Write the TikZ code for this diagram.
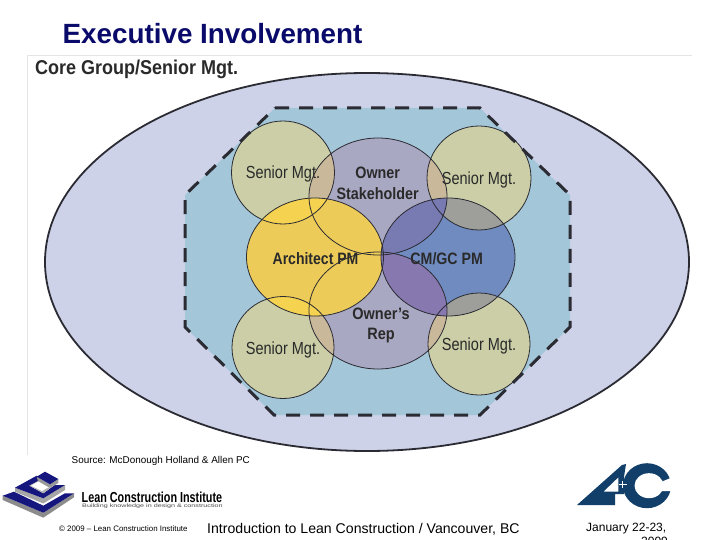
\documentclass[tikz,border=0pt]{standalone}
\usepackage{fontspec}
\usepackage{graphicx}
\setmainfont{Liberation Sans}
\usetikzlibrary{calc}
\definecolor{titleblue}{HTML}{0A0A6B}
\definecolor{outerfill}{HTML}{CDD2E8}
\definecolor{octfill}{HTML}{A3C6D8}
\definecolor{srfill}{HTML}{CBCEA6}
\definecolor{ownfill}{HTML}{A9A8C3}
\definecolor{archfill}{HTML}{EDCB58}
\definecolor{cmfill}{HTML}{6F8BBF}
\definecolor{ink}{HTML}{2A2A2A}
\definecolor{logoblue}{HTML}{16167F}
\definecolor{acblue}{HTML}{123F69}
\definecolor{darkline}{HTML}{2B2B33}
\definecolor{tan}{HTML}{C9B89A}
\definecolor{brightyellow}{HTML}{F5D250}
\definecolor{greyover}{HTML}{9E9E9A}
\definecolor{dimover}{HTML}{7D7D96}
\definecolor{ownerover}{HTML}{787AB2}
\definecolor{repover}{HTML}{8778B0}
\tikzset{
  lbl/.style={font=\fontsize{17.5}{20}\selectfont, text=ink, inner sep=0pt, anchor=base},
  blbl/.style={font=\fontsize{16.5}{20.5}\selectfont\bfseries, text=ink, inner sep=0pt, align=center},
  blone/.style={blbl, anchor=base},
  outl/.style={draw=darkline, line width=0.8pt},
  plain/.style={inner sep=0pt, anchor=base west}
}
\newcommand{\sx}[2]{\scalebox{#1}[1]{#2}}
\newcommand{\cTL}{(283,172.5) circle [radius=51.5]}
\newcommand{\cTR}{(479,178) circle [radius=52]}
\newcommand{\cBL}{(283,347.5) circle [radius=51]}
\newcommand{\cBR}{(479,344) circle [radius=51]}
\newcommand{\eOwn}{(378,196.5) ellipse [x radius=69, y radius=58.5]}
\newcommand{\eRep}{(378,310.5) ellipse [x radius=69, y radius=58.5]}
\newcommand{\eArch}{(315,257) ellipse [x radius=68.5, y radius=59]}
\newcommand{\eCM}{(448,257) ellipse [x radius=67, y radius=59]}
\begin{document}
\begin{tikzpicture}[x=1pt,y=-1pt]
\useasboundingbox (0,0) rectangle (720,540);
\fill[white] (0,0) rectangle (720,540);
\draw[black!10, line width=0.6pt] (27,455) -- (27,55.5) -- (692,55.5);
% outer ellipse
\draw[fill=outerfill, draw=darkline, line width=1.8pt] (367,262) ellipse [x radius=322, y radius=189];
% octagon
\fill[octfill] (275,108) -- (480,108) -- (570,195) -- (570,327) -- (480,415) -- (274,415) -- (185,327) -- (185,195) -- cycle;
% base fills
\fill[srfill] \cTL; \fill[srfill] \cTR; \fill[srfill] \cBL; \fill[srfill] \cBR;
\fill[ownfill] \eOwn; \fill[ownfill] \eRep;
\fill[archfill] \eArch; \fill[cmfill] \eCM;
% overlaps
\begin{scope}\clip \cTL; \fill[tan] \eOwn; \fill[brightyellow] \eArch; \end{scope}
\begin{scope}\clip \cBL; \fill[tan] \eRep; \fill[brightyellow] \eArch; \end{scope}
\begin{scope}\clip \cTR; \fill[tan] \eOwn; \fill[greyover] \eCM; \begin{scope}\clip \eOwn; \fill[dimover] \eCM; \end{scope}\end{scope}
\begin{scope}\clip \cBR; \fill[tan] \eRep; \fill[greyover] \eCM; \begin{scope}\clip \eRep; \fill[dimover] \eCM; \end{scope}\end{scope}
\begin{scope}\clip \eCM; \fill[ownerover] \eOwn; \fill[repover] \eRep; \end{scope}
% outlines
\foreach \sh in {\cTL,\cTR,\cBL,\cBR,\eOwn,\eRep,\eArch,\eCM} {\draw[outl] \sh;}
% dashed octagon over the circles
\draw[darkline, line width=3pt, dash pattern=on 14pt off 10pt] (275,108) -- (480,108) -- (570,195) -- (570,327) -- (480,415) -- (274,415) -- (185,327) -- (185,195) -- cycle;
% labels
\node[lbl] (sm1) at (283,179) {\sx{.83}{Senior Mgt.}};
\node[lbl] (sm2) at (479,184.3) {\sx{.83}{Senior Mgt.}};
\node[lbl] (sm3) at (283,354.3) {\sx{.83}{Senior Mgt.}};
\node[lbl] (sm4) at (479,350.7) {\sx{.83}{Senior Mgt.}};
\node[blbl] (own) at (377.7,183.5) {\sx{.87}{Owner}\\\sx{.87}{Stakeholder}};
\node[blbl] (rep) at (381,325.5) {\sx{.88}{Owner’s}\\\sx{.88}{Rep}};
\node[blone] (arch) at (315.5,264) {\sx{.85}{Architect PM}};
\node[blone] (cm) at (446.7,264) {\sx{.86}{CM/GC PM}};
% title etc
\node[plain, font=\fontsize{27.8}{30}\selectfont\bfseries, text=titleblue] (title) at (62.5,43.5) {Executive Involvement};
\node[plain, font=\fontsize{20}{22}\selectfont\bfseries, text=ink] (core) at (35,75) {\sx{.9}{Core Group/Senior Mgt.}};
\node[plain, font=\fontsize{9.9}{11}\selectfont, text=black] (src) at (71.5,463) {Source: McDonough Holland \& Allen PC};
\node[plain, font=\fontsize{14.1}{16}\selectfont, text=black] (intro) at (207,533) {Introduction to Lean Construction / Vancouver, BC};
\node[plain, font=\fontsize{12}{14}\selectfont, text=black] (date) at (586,531) {January 22-23,};
\node[plain, font=\fontsize{12}{14}\selectfont, text=black] (year) at (641,545) {2009};
\node[plain, font=\fontsize{7.9}{9}\selectfont, text=black] (copy) at (59,531.3) {© 2009 – Lean Construction Institute};
\node[plain, font=\fontsize{14.5}{16}\selectfont\bfseries, text=black] (lci) at (81.5,502) {\sx{.745}{Lean Construction Institute}};
\node[plain, font=\fontsize{5}{6}\selectfont, text=black!70] (lcis) at (82,507.5) {\sx{1.44}{Building knowledge in design \& construction}};
% LCI logo
\fill[black!45] (2.7,495.7) -- (43.3,512.7) -- (74,493.3) -- (74,497.3) -- (43.3,517.7) -- (2.7,500) -- cycle;
\fill[logoblue] (2.7,495.7) -- (14,491.7) -- (43.3,505.7) -- (65,493.3) -- (74,493.3) -- (43.3,512.7) -- cycle;
\fill[black!35] (15,487.7) -- (43.3,498.3) -- (65,485) -- (65,490) -- (43.3,503.5) -- (15,491.7) -- cycle;
\fill[logoblue] (15,487.7) -- (36.7,475.7) -- (41,480) -- (29.3,485.7) -- (43.3,493.3) -- (55,485) -- (65,485) -- (43.3,498.3) -- cycle;
\fill[black!30] (29.3,485.7) -- (38,481) -- (50,488.5) -- (43.3,493.3) -- cycle;
\fill[white] (31,485.7) -- (38.3,481.5) -- (49,487) -- (42,491) -- cycle;
\fill[black!40] (36.7,476.7) -- (50,484.3) -- (58.3,479) -- (58.3,483) -- (50,488) -- (38,481) -- cycle;
\fill[logoblue] (36.7,476.7) -- (45,471.7) -- (58.3,479) -- (50,484.3) -- cycle;
% AC logo
\fill[acblue] (647,485.7) ellipse [x radius=24, y radius=22.5];
\fill[white] (649,485.7) ellipse [x radius=14.5, y radius=12.5];
\fill[white] (652,485.7) -- (673,477) -- (673,491) -- (655,491) -- cycle;
\fill[acblue, even odd rule] (577,505) -- (622,465) -- (626,464) -- (624,477) -- (624,494) -- (615,494) -- (615,505) -- cycle (603.3,491.7) -- (618.3,477.3) -- (618.3,491.7) -- cycle;
\draw[white, line width=0.5pt] (619,484.5) -- (627,484.5) (622.5,481) -- (622.5,488);
\end{tikzpicture}
\end{document}
